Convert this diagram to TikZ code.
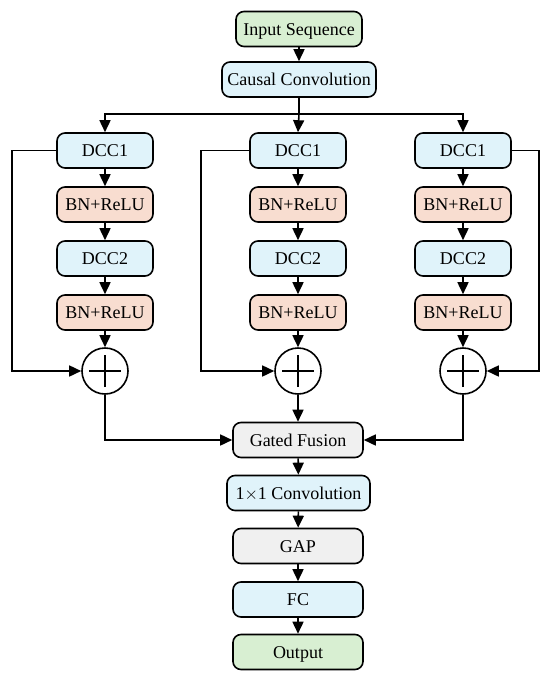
\documentclass[tikz,border=0pt]{standalone}
\usepackage{fontspec}
\setmainfont{Liberation Serif}
\usetikzlibrary{arrows.meta,calc}
\definecolor{cgreen}{HTML}{D8EFD2}
\definecolor{cblue}{HTML}{E0F3FA}
\definecolor{cpeach}{HTML}{F8DDD0}
\definecolor{cgray}{HTML}{F0F0F0}
\tikzset{
  box/.style={draw=black, line width=1.6pt, rounded corners=8pt, minimum height=35pt, inner sep=0pt, font=\fontsize{18}{20}\selectfont, text height=12pt, text depth=0pt},
  gbox/.style={box, fill=cgreen},
  bbox/.style={box, fill=cblue},
  pbox/.style={box, fill=cpeach},
  ybox/.style={box, fill=cgray},
  colbox/.style={minimum width=96pt},
  plusnode/.style={draw=black, line width=1.6pt, circle, minimum size=46pt, inner sep=0pt, fill=white,
    path picture={\draw[line width=1.6pt] ($(path picture bounding box.center)+(-16pt,0)$) -- ($(path picture bounding box.center)+(16pt,0)$);
                  \draw[line width=1.6pt] ($(path picture bounding box.center)+(0,-16pt)$) -- ($(path picture bounding box.center)+(0,16pt)$);}},
  arr/.style={line width=1.6pt, -{Triangle[length=12pt,width=11pt]}},
  ln/.style={line width=1.6pt}
}
\begin{document}
\begin{tikzpicture}[x=1pt,y=-1pt]
\useasboundingbox (0,0) rectangle (550,680);
% main spine
\node[gbox, minimum width=126pt] (in) at (299,29) {Input Sequence};
\node[bbox, minimum width=154pt] (cc) at (299,79.5) {Causal Convolution};
% columns
\foreach \n/\x in {A/105,B/298,C/463}{
  \node[bbox, colbox] (\n1) at (\x,150.5) {DCC1};
  \node[pbox, colbox] (\n2) at (\x,204.5) {BN+ReLU};
  \node[bbox, colbox] (\n3) at (\x,258.5) {DCC2};
  \node[pbox, colbox] (\n4) at (\x,312.5) {BN+ReLU};
  \node[plusnode] (\n5) at (\x,371) {};
}
\node[ybox, minimum width=130pt] (gf) at (298,440) {Gated Fusion};
\node[bbox, minimum width=143pt] (c11) at (298.5,493) {1$\times$1 Convolution};
\node[ybox, minimum width=130pt] (gap) at (298,546) {GAP};
\node[bbox, minimum width=130pt] (fc) at (298,599.5) {FC};
\node[gbox, minimum width=130pt] (out) at (298,652) {Output};
% coordinates
\coordinate (br) at (299,114);
\coordinate (skA) at (12,150.5);
\coordinate (skB) at (201,150.5);
\coordinate (skC) at (539,150.5);
% connectors
\draw[arr] (in) -- (cc);
\draw[ln] (cc.south) -- (br);
\draw[arr] (br) -| (A1.north);
\draw[arr] (br) -| (C1.north);
\draw[arr] (br) -- (B1.north);
\foreach \n in {A,B,C}{
  \draw[arr] (\n1) -- (\n2);
  \draw[arr] (\n2) -- (\n3);
  \draw[arr] (\n3) -- (\n4);
  \draw[arr] (\n4) -- (\n5);
}
\draw[arr] (A1.west) -- (skA) |- (A5.west);
\draw[arr] (B1.west) -- (skB) |- (B5.west);
\draw[arr] (C1.east) -- (skC) |- (C5.east);
\draw[arr] (A5.south) |- (gf.west);
\draw[arr] (C5.south) |- (gf.east);
\draw[arr] (B5) -- (gf);
\draw[arr] (gf) -- (c11);
\draw[arr] (c11) -- (gap);
\draw[arr] (gap) -- (fc);
\draw[arr] (fc) -- (out);
\end{tikzpicture}
\end{document}
